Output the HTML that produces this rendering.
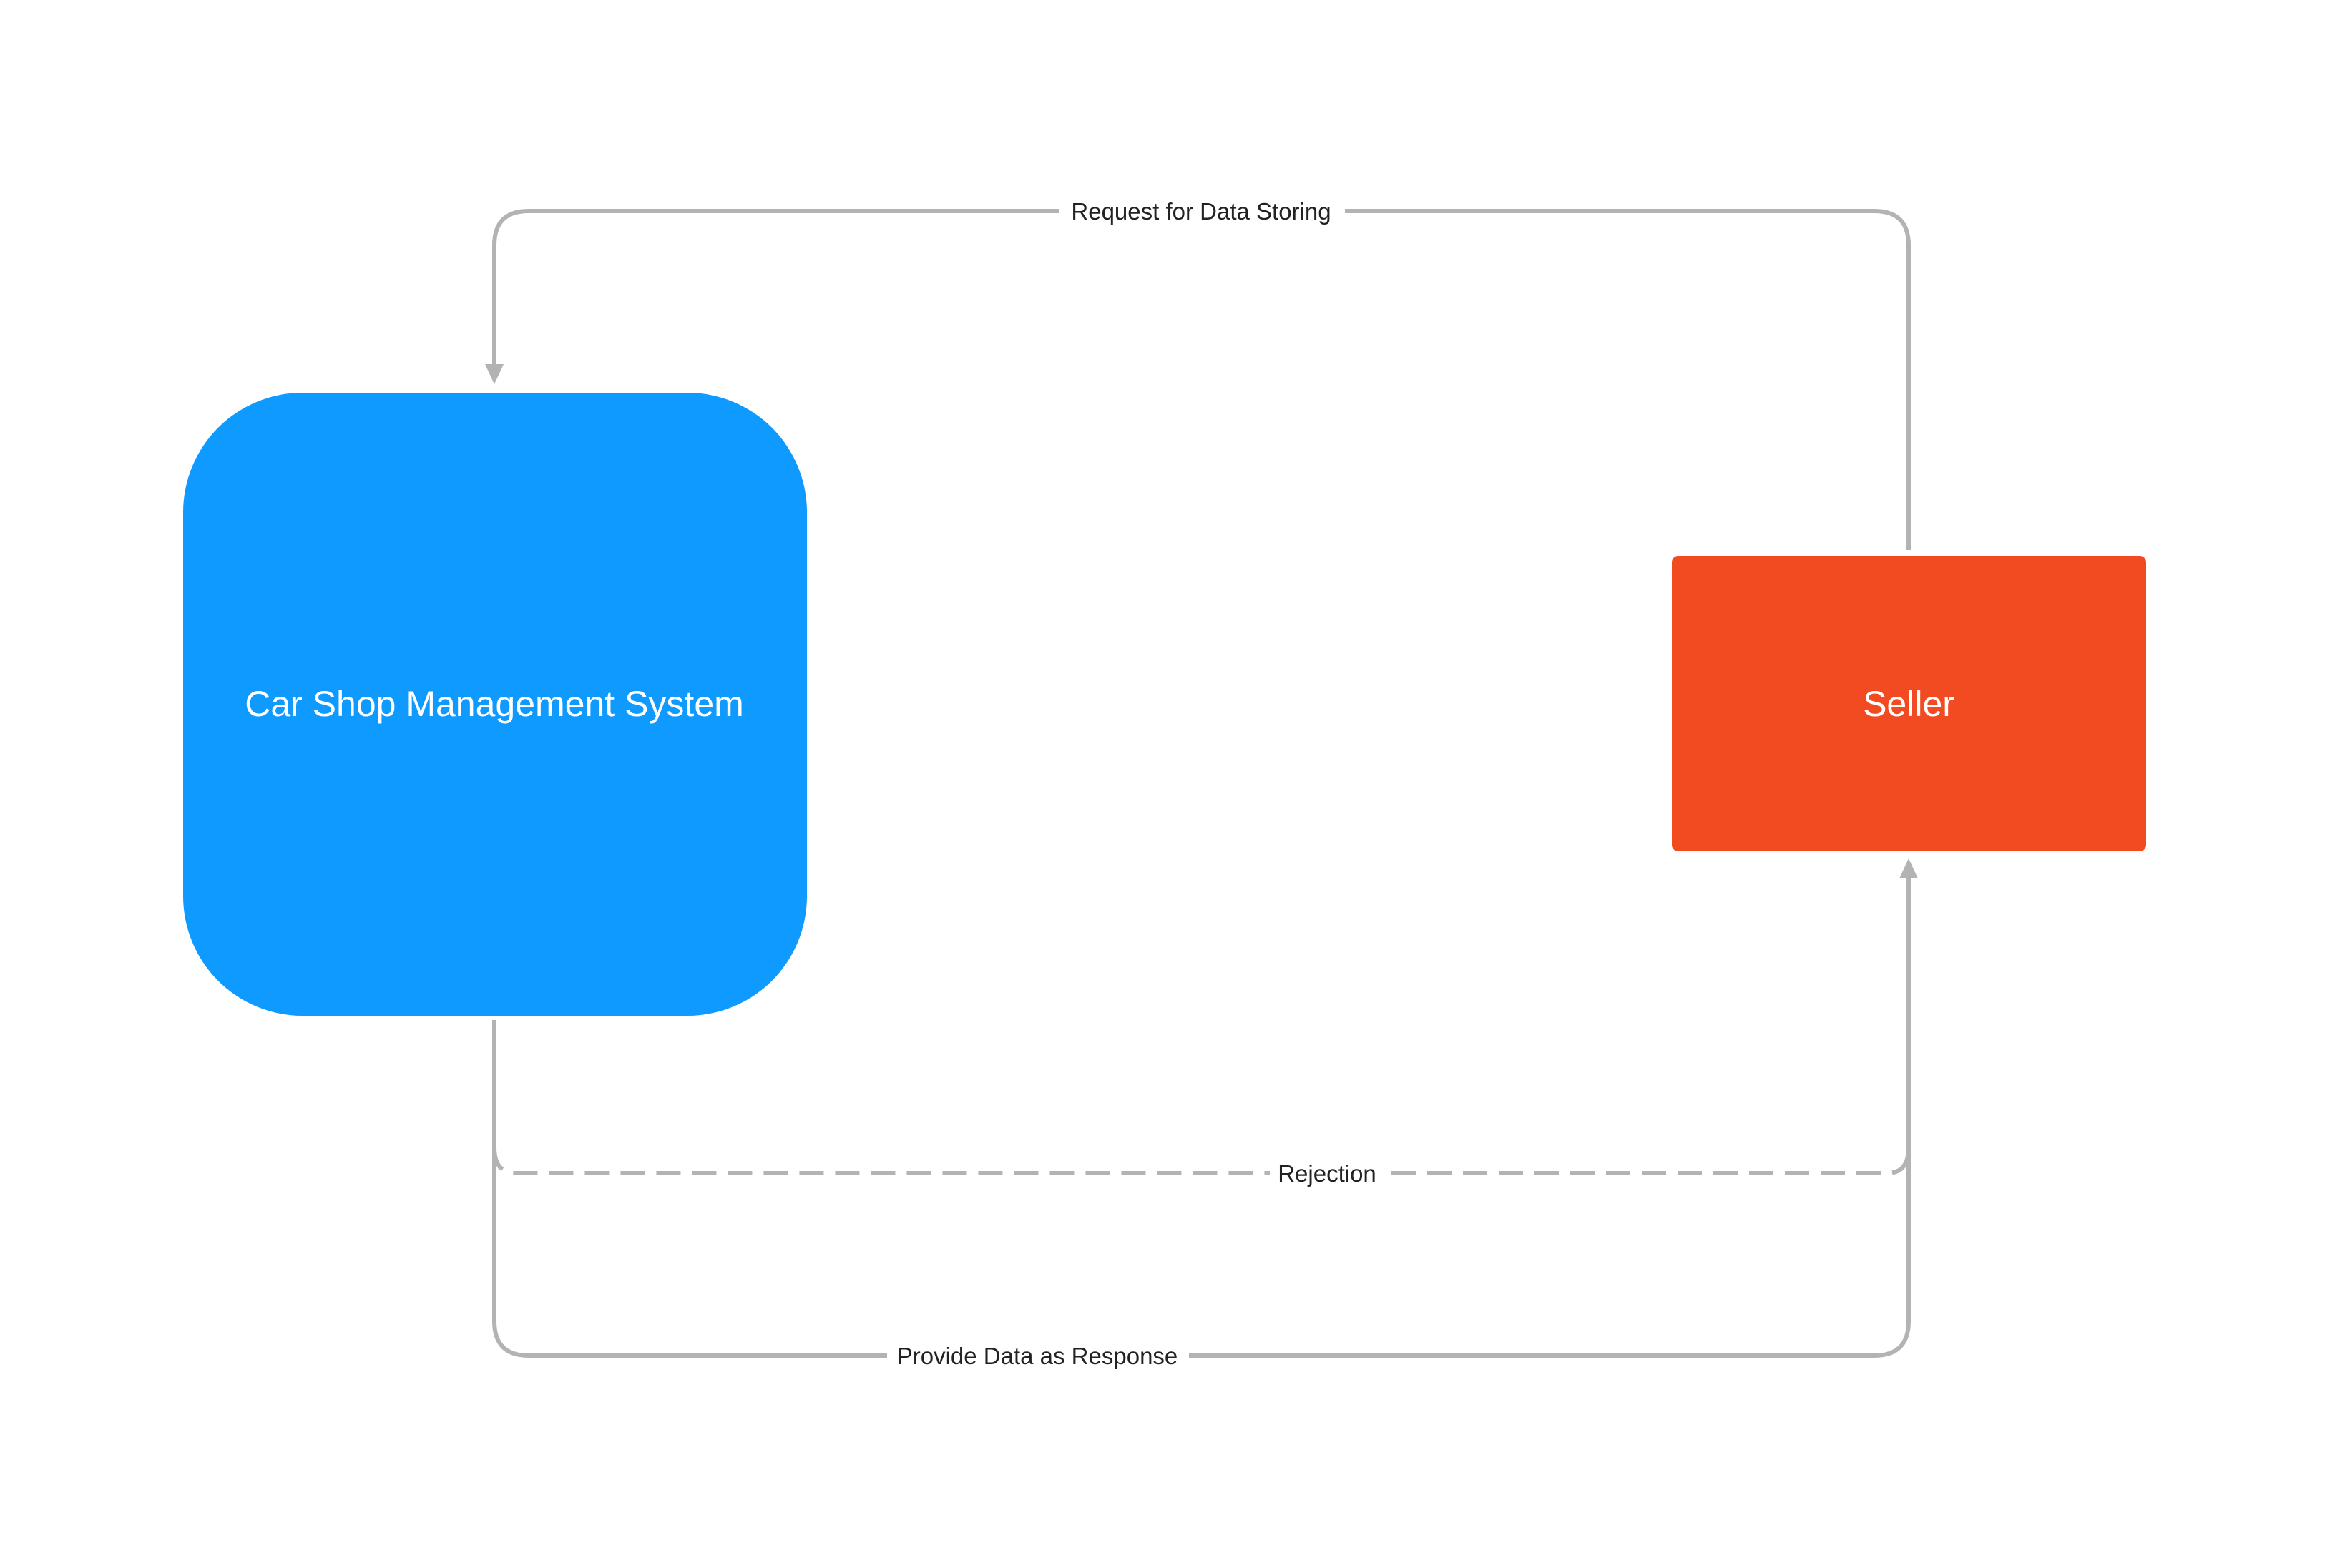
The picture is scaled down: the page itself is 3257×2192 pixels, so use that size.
<!DOCTYPE html>
<html><head><style>
html,body{margin:0;padding:0;background:#fff;}
svg{display:block;}
text{font-family:"Liberation Sans",sans-serif;}
</style></head><body>
<svg width="3257" height="2192" viewBox="0 0 3257 2192" xmlns="http://www.w3.org/2000/svg">
<rect x="0" y="0" width="3257" height="2192" fill="#fff"/>
<rect x="256" y="549" width="872" height="871" rx="167" ry="167" fill="#0f9aff"/>
<rect x="2337" y="777" width="663" height="413" rx="9" ry="9" fill="#f24b22"/>
<text x="691" y="1001" font-size="50" fill="#fff" text-anchor="middle">Car Shop Management System</text>
<text x="2668" y="1001" font-size="50" fill="#fff" text-anchor="middle">Seller</text>
<g fill="none" stroke="#b3b3b3" stroke-width="6">
<path d="M2668 769 V343 Q2668 295 2620 295 H1880"/>
<path d="M1480 295 H739 Q691 295 691 343 V515"/>
<path d="M691 1426 V1847 Q691 1895 739 1895 H1240"/>
<path d="M1662 1895 H2620 Q2668 1895 2668 1847 V1228"/>
<path d="M691 1604 Q691 1640 721 1640 H1775" stroke-dasharray="34 16"/>
<path d="M1945 1640 H2638 Q2668 1640 2668 1604" stroke-dasharray="34 16"/>
</g>
<polygon points="678,509 704,509 691,537" fill="#b3b3b3"/>
<polygon points="2655,1228 2681,1228 2668,1200" fill="#b3b3b3"/>
<g font-size="33" fill="#222" text-anchor="middle">
<text x="1679" y="307">Request for Data Storing</text>
<text x="1855" y="1652">Rejection</text>
<text x="1450" y="1907">Provide Data as Response</text>
</g>
</svg>
</body></html>
